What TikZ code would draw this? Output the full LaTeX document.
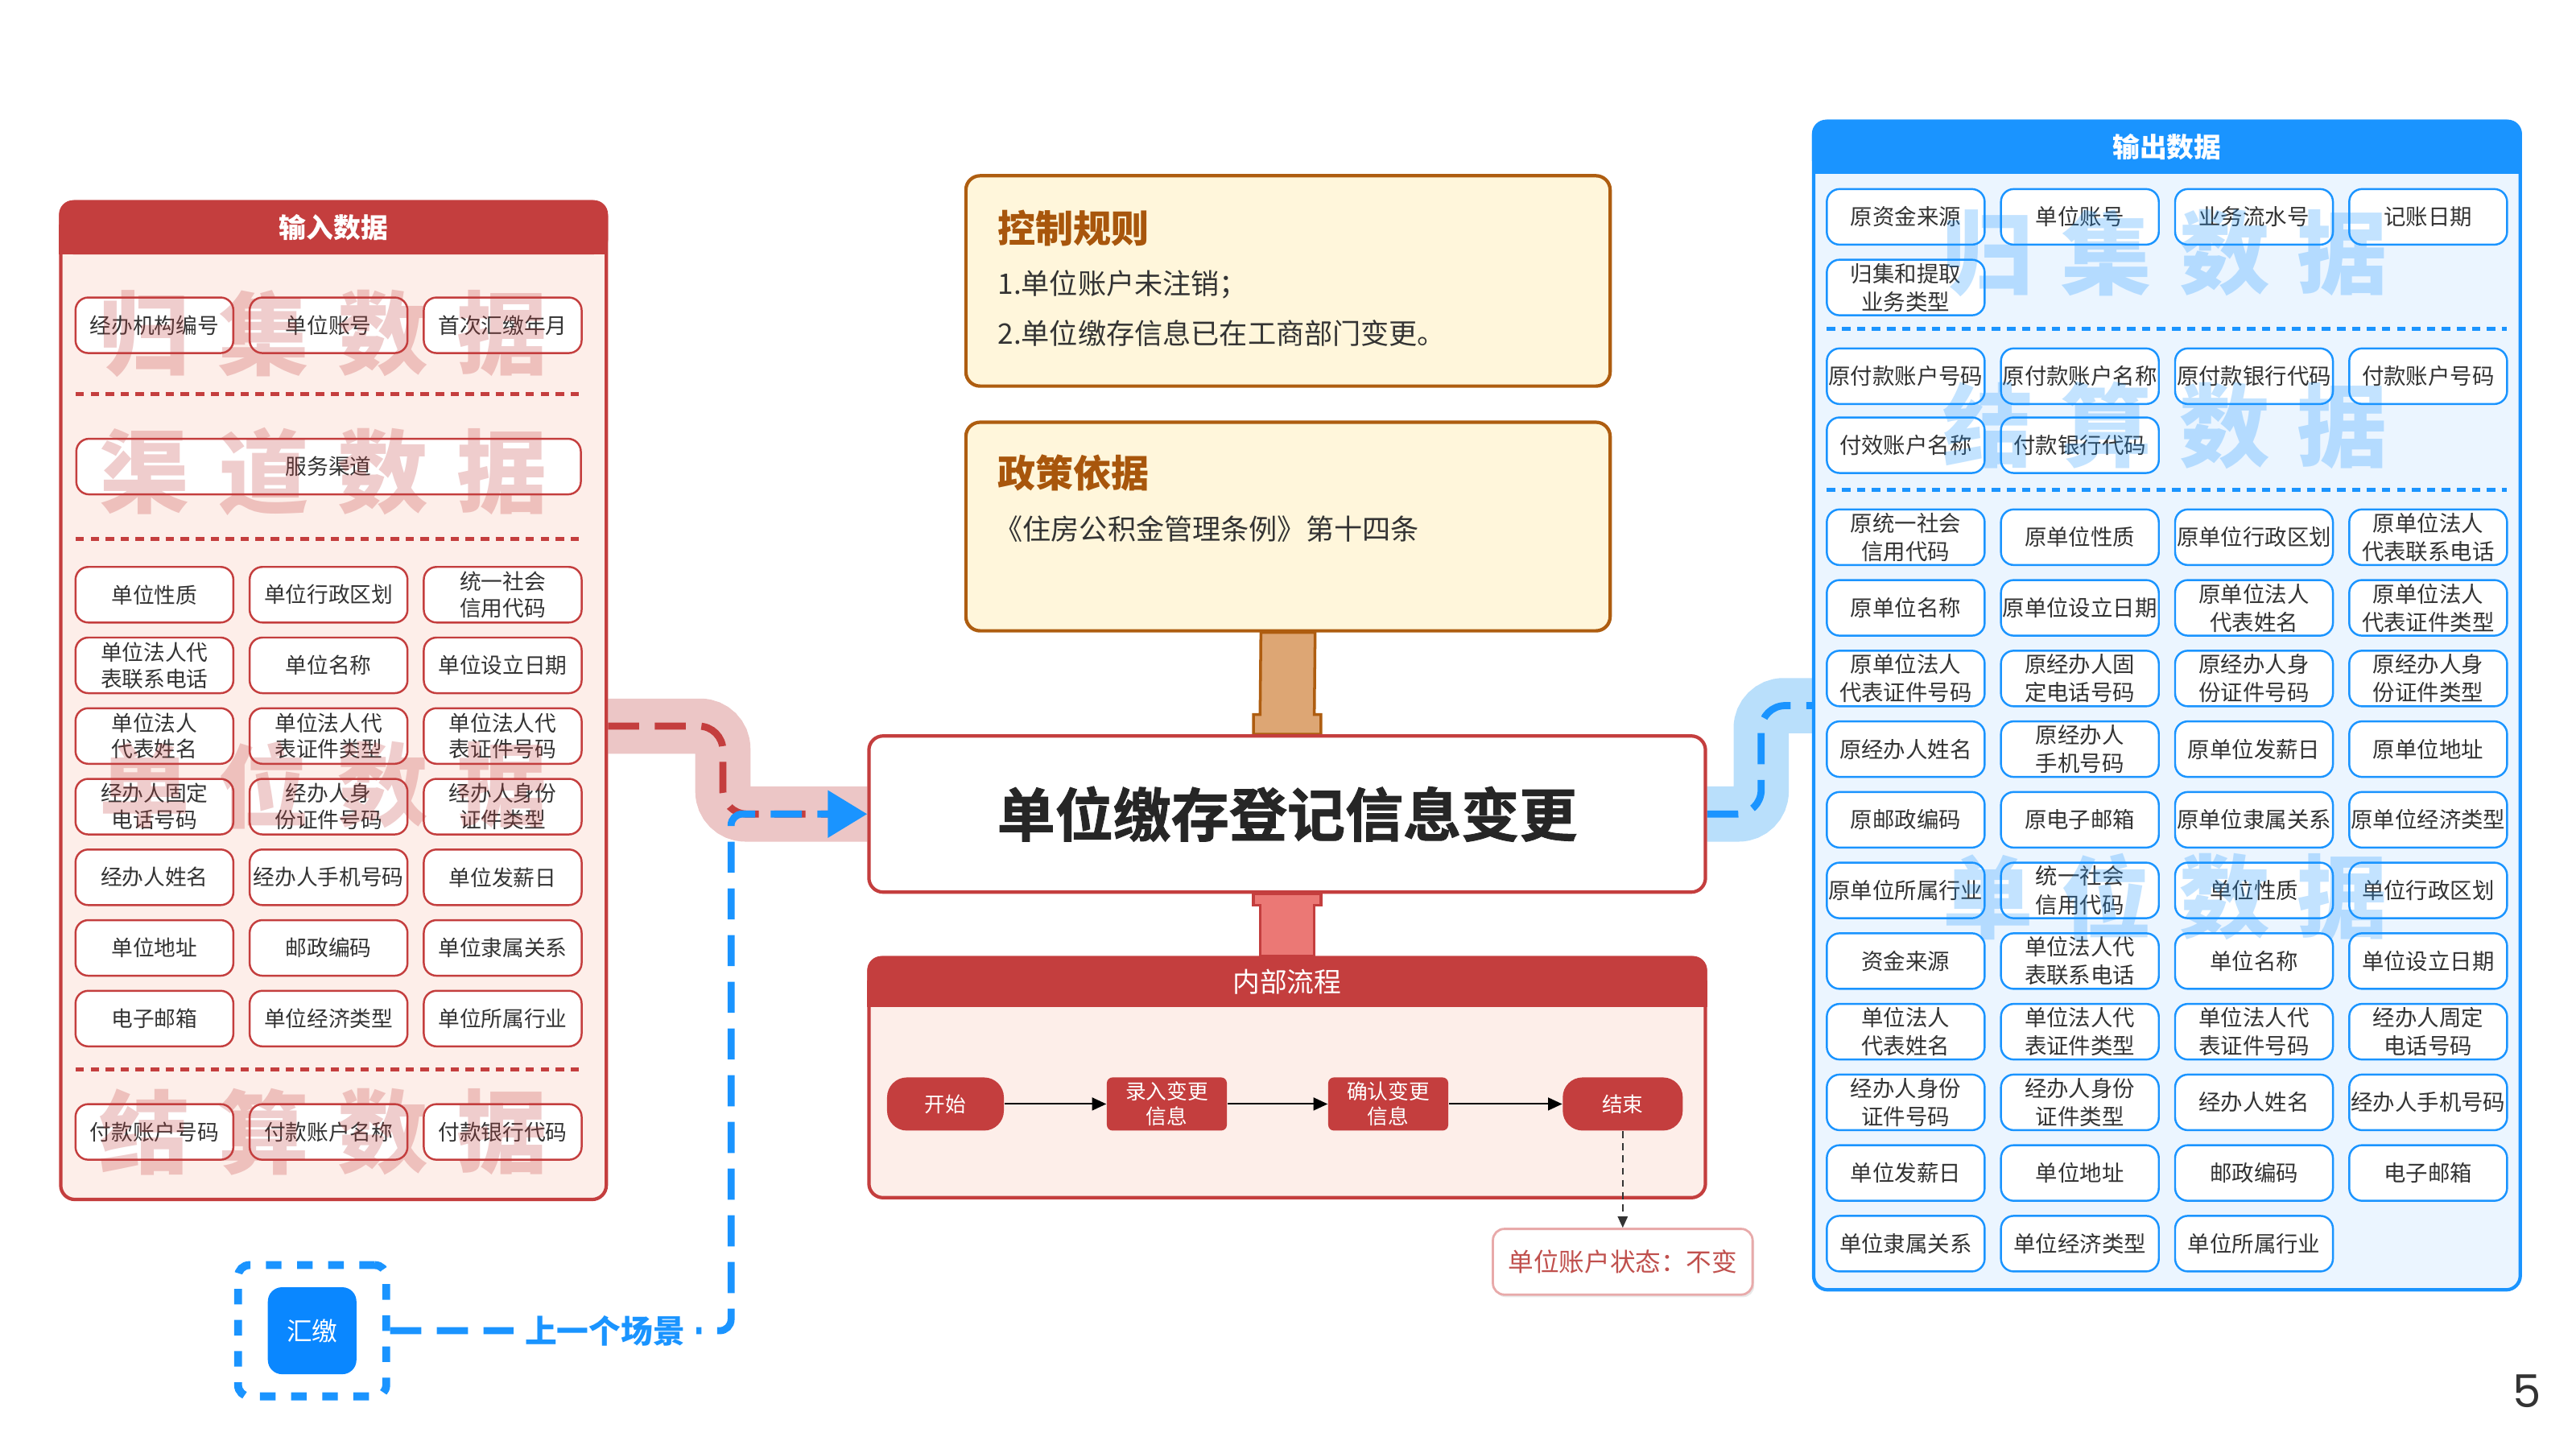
\documentclass[tikz,border=0pt]{standalone}
\usepackage{fontspec}
\setmainfont{Noto Sans CJK SC}
\newfontfamily\numfont{Poppins}
\newfontfamily\heavyfont[FakeBold=1.2]{Noto Sans CJK SC Bold}
\usetikzlibrary{positioning,calc}
\usetikzlibrary{arrows.meta}
\usetikzlibrary{shadows,backgrounds}

\definecolor{redc}{HTML}{C43E3E}
\definecolor{redbg}{HTML}{FDEEE9}
\definecolor{bluec}{HTML}{1A94FF}
\definecolor{bluebg}{HTML}{EBF5FF}
\definecolor{brownc}{HTML}{AE5D10}
\definecolor{brownt}{HTML}{A8560C}
\definecolor{creambg}{HTML}{FFF6DB}
\definecolor{tanc}{HTML}{DDA674}
\definecolor{salmonc}{HTML}{EB7875}
\definecolor{bandred}{HTML}{ECC6C6}
\definecolor{bandblue}{HTML}{B9DFFB}
\definecolor{textc}{HTML}{333333}
\definecolor{hjblue}{HTML}{0A87FF}
\definecolor{statusred}{HTML}{C0504D}
\definecolor{statusline}{HTML}{E8AAAA}

\tikzset{
        % Data boxes, input side
        box_in/.style={draw=redc, fill=white, line width=0.7pt, rounded corners=4.5pt, align=center, inner sep=0pt, minimum width=1.96cm, minimum height=0.69cm, text=textc, font=\fontsize{7.6}{9.3}\selectfont},
        % Data boxes, output side
        box_out/.style={box_in, draw=bluec, font=\fontsize{7.8}{10}\selectfont},
        % Panels and their headers
        panel_in/.style={draw=redc, fill=redbg, line width=1.2pt, rounded corners=5pt, inner sep=0pt},
        panel_out/.style={panel_in, draw=bluec, fill=bluebg},
        panel_title/.style={text=white, inner sep=0pt, font=\fontsize{9.6}{11}\selectfont\bfseries},
        % Watermarks
        mark_red/.style={text=redc, opacity=0.26, inner sep=0pt, font=\fontsize{32}{32}\selectfont\bfseries},
        mark_blue/.style={mark_red, text=bluec},
        % Separators
        sep_red/.style={draw=redc, line width=1.4pt, dash pattern=on 3pt off 2.3pt},
        sep_blue/.style={sep_red, draw=bluec},
        % Rule boxes
        rule_box/.style={draw=brownc, fill=creambg, line width=1.2pt, rounded corners=5pt, minimum width=8cm, inner sep=0pt},
        rule_title/.style={anchor=west, inner sep=0pt, text=brownt, font=\fontsize{13.4}{15}\selectfont\bfseries},
        rule_text/.style={anchor=west, inner sep=0pt, text=textc, font=\fontsize{10}{12}\selectfont},
        main_box/.style={draw=redc, fill=white, line width=1.2pt, rounded corners=5pt, minimum width=10.388cm, minimum height=1.939cm, font=\heavyfont\fontsize{20.5}{22}\selectfont, text=black!85},
        % Flow nodes
        flow_pill/.style={fill=redc, text=white, rounded corners=7pt, minimum width=1.45cm, minimum height=0.66cm, inner sep=0pt, align=center, font=\fontsize{7.3}{8.8}\selectfont},
        flow_step/.style={flow_pill, rounded corners=2pt, minimum width=1.49cm},
        flow_arrow/.style={-{Triangle[length=5pt,width=4.5pt]}, black, line width=0.6pt},
        status_arrow/.style={-{Triangle[length=4pt,width=3.5pt]}, black!80, line width=0.5pt, dash pattern=on 2.5pt off 1.8pt},
        status_box/.style={draw=statusline, fill=white, line width=0.8pt, rounded corners=4pt, minimum width=3.224cm, minimum height=0.816cm, text=statusred, font=\fontsize{9}{11}\selectfont, drop shadow={opacity=0.18, shadow xshift=0.6pt, shadow yshift=-0.9pt}},
        % Connectors
        band_red/.style={draw=bandred, line width=19.5pt, rounded corners=8pt},
        band_blue/.style={band_red, draw=bandblue},
        dash_red/.style={draw=redc, line width=2.5pt, rounded corners=8.5pt, dash pattern=on 11pt off 5.5pt},
        dash_blue/.style={dash_red, draw=bluec},
        scene_path/.style={dash_blue, rounded corners=4pt, -{Triangle[length=0.49cm,width=0.57cm]}},
        scene_label/.style={fill=white, text=bluec, inner sep=4pt, font=\fontsize{11.3}{13}\selectfont\bfseries},
        hj_outer/.style={draw=bluec, line width=2.8pt, rounded corners=4pt, dash pattern=on 5.5pt off 5.5pt, minimum width=1.84cm, minimum height=1.63cm},
        hj_inner/.style={fill=hjblue, text=white, rounded corners=5pt, minimum width=1.1cm, minimum height=1.08cm, font=\fontsize{9}{11}\selectfont},
        stem_tan/.style={fill=tanc, draw=brownc, line width=1pt},
        stem_red/.style={fill=salmonc, draw=redc, line width=1pt},
        page_num/.style={text=textc, font=\numfont\fontsize{16}{18}\selectfont}
}

\begin{document}
\begin{tikzpicture}[x=0.020408cm, y=-0.020408cm]
\useasboundingbox (0,0) rectangle (1568,882);

% ---------- input panel
\node[panel_in, minimum width=6.775cm, minimum height=12.388cm] (inpanel) at (203,426.5) {};
\fill[redc, rounded corners=5pt] (inpanel.north west) rectangle ($(inpanel.north east)+(0,33)$);
\fill[redc] ($(inpanel.north west)+(0,15)$) rectangle ($(inpanel.north east)+(0,33)$);
\node[panel_title] (intitle) at ($(inpanel.north)+(0,16.5)$) {输入数据};

\foreach \t [count=\ci] in {经办机构编号,单位账号,首次汇缴年月}
    \node[box_in] (coll\ci) at (-12+106*\ci, 198) {\t};
\node[box_in, minimum width=6.265cm] (chan1) at (200,284) {服务渠道};
\foreach \row [count=\ri] in {
        {单位性质,单位行政区划,统一社会\\信用代码},
        {单位法人代\\表联系电话,单位名称,单位设立日期},
        {单位法人\\代表姓名,单位法人代\\表证件类型,单位法人代\\表证件号码},
        {经办人固定\\电话号码,经办人身\\份证件号码,经办人身份\\证件类型},
        {经办人姓名,经办人手机号码,单位发薪日},
        {单位地址,邮政编码,单位隶属关系},
        {电子邮箱,单位经济类型,单位所属行业}}
    \foreach \t [count=\ci] in \row
        \node[box_in] (unit\ri-\ci) at (-12+106*\ci, 319+43*\ri) {\t};
\foreach \t [count=\ci] in {付款账户号码,付款账户名称,付款银行代码}
    \node[box_in] (settle\ci) at (-12+106*\ci, 689) {\t};

\foreach \y in {240,328,651}
    \draw[sep_red] (46,\y) -- (354,\y);

% watermarks
\foreach \ch [count=\i] in {归,集,数,据}
    \node[mark_red] (wmInA\i) at (15.4+72.6*\i, 203) {\ch};
\foreach \ch [count=\i] in {渠,道,数,据}
    \node[mark_red] (wmInB\i) at (15.4+72.6*\i, 287) {\ch};
\foreach \ch [count=\i] in {单,位,数,据}
    \node[mark_red] (wmInC\i) at (15.4+72.6*\i, 478) {\ch};
\foreach \ch [count=\i] in {结,算,数,据}
    \node[mark_red] (wmInD\i) at (15.4+72.6*\i, 689) {\ch};

% ---------- rules and policy
\node[rule_box, minimum height=2.612cm] (rulebox) at (784,171) {};
\node[rule_title] (ruletitle) at (607,139) {控制规则};
\node[rule_text] (rule1) at (607,173) {1.单位账户未注销；};
\node[rule_text] (rule2) at (607,203) {2.单位缴存信息已在工商部门变更。};

\node[rule_box, minimum height=2.59cm] (policybox) at (784,320.5) {};
\node[rule_title] (policytitle) at (607,288) {政策依据};
\node[rule_text] (policy1) at (605,322) {《住房公积金管理条例》第十四条};

% ---------- scene
\node[main_box] (mainbox) at (783.5,495.5) {单位缴存登记信息变更};

% ---------- internal flow
\node[panel_in, minimum width=10.388cm, minimum height=2.98cm] (flowpanel) at (783.5,656) {};
\fill[redc, rounded corners=5pt] (flowpanel.north west) rectangle ($(flowpanel.north east)+(0,31)$);
\fill[redc] ($(flowpanel.north west)+(0,15)$) rectangle ($(flowpanel.north east)+(0,31)$);
\node[panel_title, font=\fontsize{9.6}{11}\selectfont] (flowtitle) at ($(flowpanel.north)+(0,15.5)$) {内部流程};

\node[flow_pill] (start) at (575.5,672) {开始};
\node[flow_step, right=1.265cm of start] (enter) {录入变更\\信息};
\node[flow_step, right=1.245cm of enter] (confirm) {确认变更\\信息};
\node[flow_pill, right=1.408cm of confirm, minimum width=1.49cm] (finish) {结束};
\node[status_box, below=1.2cm of finish] (status) {单位账户状态：不变};

\draw[flow_arrow] (start) -- (enter);
\draw[flow_arrow] (enter) -- (confirm);
\draw[flow_arrow] (confirm) -- (finish);
\draw[status_arrow] (finish) -- (status);

% ---------- output panel
\node[panel_out, minimum width=8.775cm, minimum height=14.51cm] (outpanel) at (1319,429.5) {};
\fill[bluec, rounded corners=5pt] (outpanel.north west) rectangle ($(outpanel.north east)+(0,33)$);
\fill[bluec] ($(outpanel.north west)+(0,15)$) rectangle ($(outpanel.north east)+(0,33)$);
\node[panel_title] (outtitle) at ($(outpanel.north)+(0,16.5)$) {输出数据};

\foreach \t [count=\ci] in {原资金来源,单位账号,业务流水号,记账日期}
    \node[box_out] (ocoll\ci) at (1054+106*\ci, 132) {\t};
\node[box_out] (ocoll5) at (1160,175) {归集和提取\\业务类型};
\foreach \t [count=\ci] in {原付款账户号码,原付款账户名称,原付款银行代码,付款账户号码}
    \node[box_out] (osettle\ci) at (1054+106*\ci, 229) {\t};
\foreach \t [count=\ci] in {付效账户名称,付款银行代码}
    \node[box_out] (osettleb\ci) at (1054+106*\ci, 271) {\t};
\foreach \row [count=\ri] in {
        {原统一社会\\信用代码,原单位性质,原单位行政区划,原单位法人\\代表联系电话},
        {原单位名称,原单位设立日期,原单位法人\\代表姓名,原单位法人\\代表证件类型},
        {原单位法人\\代表证件号码,原经办人固\\定电话号码,原经办人身\\份证件号码,原经办人身\\份证件类型},
        {原经办人姓名,原经办人\\手机号码,原单位发薪日,原单位地址},
        {原邮政编码,原电子邮箱,原单位隶属关系,原单位经济类型},
        {原单位所属行业,统一社会\\信用代码,单位性质,单位行政区划},
        {资金来源,单位法人代\\表联系电话,单位名称,单位设立日期},
        {单位法人\\代表姓名,单位法人代\\表证件类型,单位法人代\\表证件号码,经办人周定\\电话号码},
        {经办人身份\\证件号码,经办人身份\\证件类型,经办人姓名,经办人手机号码},
        {单位发薪日,单位地址,邮政编码,电子邮箱},
        {单位隶属关系,单位经济类型,单位所属行业}}
    \foreach \t [count=\ci] in \row
        \node[box_out] (ounit\ri-\ci) at (1054+106*\ci, 284+43*\ri) {\t};

\foreach \y in {200,298}
    \draw[sep_blue] (1112,\y) -- (1526,\y);

\foreach \ch [count=\i] in {归,集,数,据}
    \node[mark_blue] (wmOutA\i) at (1138+72*\i, 154) {\ch};
\foreach \ch [count=\i] in {结,算,数,据}
    \node[mark_blue] (wmOutB\i) at (1138+72*\i, 259) {\ch};
\foreach \ch [count=\i] in {单,位,数,据}
    \node[mark_blue] (wmOutC\i) at (1138+72*\i, 546) {\ch};

% ---------- previous scene
\node[hj_outer] (hjouter) at (190,810) {};
\node[hj_inner] (hjinner) at (hjouter.center) {汇缴};

\node[page_num] (pagenum) at (1538,847) {5};

% ---------- connectors
\coordinate (bend_in) at (440,0);
\coordinate (bend_hj) at (445,0);
\coordinate (bend_out) at (1072,0);
\begin{scope}[on background layer]
    \draw[band_red] ($(inpanel.east)+(0,15.5)$) -| (bend_in |- mainbox.west) -- (mainbox.west);
    \draw[dash_red] ($(inpanel.east)+(0,15.5)$) -| (bend_in |- mainbox.west) -- (mainbox.west);
    \draw[band_blue] (mainbox.east) -| (bend_out |- outpanel.west) -- (outpanel.west);
    \draw[dash_blue] (mainbox.east) -| (bend_out |- outpanel.west) -- (outpanel.west);
    \filldraw[stem_tan] ($(policybox.south)+(-16.5,0)$) -- ($(mainbox.north)+(-16.5,-12)$)
        -- ($(mainbox.north)+(-20.5,-12)$) -- ($(mainbox.north)+(-20.5,0)$)
        -- ($(mainbox.north)+(20.5,0)$) -- ($(mainbox.north)+(20.5,-12)$)
        -- ($(mainbox.north)+(16.5,-12)$) -- ($(policybox.south)+(16.5,0)$) -- cycle;
    \filldraw[stem_red] ($(mainbox.south)+(-20.5,0)$) -- ($(mainbox.south)+(-20.5,7)$)
        -- ($(mainbox.south)+(-16.5,7)$) -- ($(flowpanel.north)+(-16.5,0)$)
        -- ($(flowpanel.north)+(16.5,0)$) -- ($(mainbox.south)+(16.5,7)$)
        -- ($(mainbox.south)+(20.5,7)$) -- ($(mainbox.south)+(20.5,0)$) -- cycle;
\end{scope}
\draw[scene_path] (hjouter.east) -- node[scene_label, pos=0.63] (scenelabel) {上一个场景} (hjouter.east -| bend_hj)
    -- (bend_hj |- mainbox.west) -- (mainbox.west);

\end{tikzpicture}
\end{document}
